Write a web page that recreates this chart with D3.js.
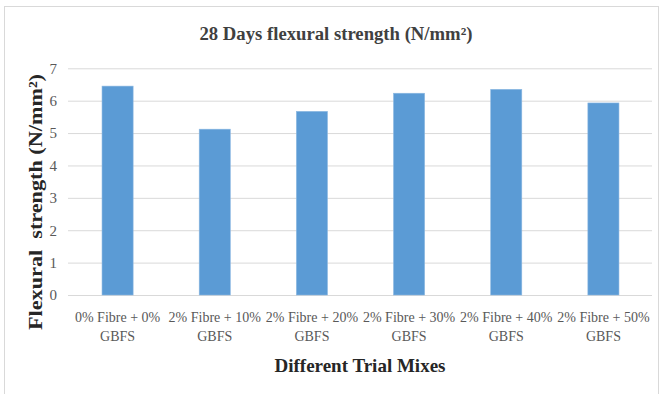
<!DOCTYPE html>
<html>
<head>
<meta charset="utf-8">
<script src="https://cdn.jsdelivr.net/npm/d3@7"></script>
<style>
  html, body { margin: 0; padding: 0; background: #fff; }
  svg { display: block; }
  svg text { font-family: 'Liberation Serif', 'Times New Roman', serif; }
</style>
</head>
<body>
<svg id="chart" width="664" height="394"></svg>
<script>
// Flexural strength at 28 days for each trial mix
const mixLine1 = ["0% Fibre + 0%", "2% Fibre + 10%", "2% Fibre + 20%", "2% Fibre + 30%", "2% Fibre + 40%", "2% Fibre + 50%"];
const mixLine2 = ["GBFS", "GBFS", "GBFS", "GBFS", "GBFS", "GBFS"];
const strength = [6.45, 5.12, 5.67, 6.23, 6.35, 5.93];
const yTicks = [0, 1, 2, 3, 4, 5, 6, 7];

const plot = { left: 69, right: 652, top: 68.3, bottom: 295 };
const svg = d3.select("#chart");
const serif = "'Liberation Serif', 'Times New Roman', serif";

// outer frame
svg.append("rect")
  .attr("x", 4.5).attr("y", 6.5)
  .attr("width", 654).attr("height", 400)
  .attr("fill", "#fff").attr("stroke", "#d9d9d9").attr("stroke-width", 1);

const x = d3.scaleBand()
  .domain(d3.range(mixLine1.length))
  .range([plot.left, plot.right])
  .paddingInner(0.68).paddingOuter(0.34);

const y = d3.scaleLinear().domain([0, 7]).range([plot.bottom, plot.top]);

// gridlines + tick labels
const yAxis = d3.axisLeft(y).tickValues(yTicks).tickFormat(d3.format("d"))
  .tickSize(-(plot.right - plot.left + 1)).tickPadding(11);
const gy = svg.append("g").attr("transform", `translate(${plot.left - 1},0)`).call(yAxis);
gy.attr("font-family", null);
gy.select(".domain").remove();
gy.selectAll(".tick line").attr("stroke", "#d9d9d9").attr("stroke-width", 1);
gy.selectAll(".tick text")
  .attr("fill", "#595959").style("font-family", serif).style("font-size", "15px");

// bars
svg.append("g").selectAll("rect")
  .data(strength)
  .join("rect")
  .attr("x", (d, i) => x(i))
  .attr("width", x.bandwidth())
  .attr("y", d => y(d))
  .attr("height", d => y(0) - y(d))
  .attr("fill", "#5b9bd5")
  .attr("stroke", "#8cb8e2").attr("stroke-width", 0.6);

// category labels (two lines)
const cat = svg.append("g").style("font-family", serif).style("font-size", "14px")
  .attr("fill", "#595959").attr("text-anchor", "middle");
cat.selectAll("text.l1").data(mixLine1).join("text")
  .attr("class", "l1")
  .attr("x", (d, i) => x(i) + x.bandwidth() / 2)
  .attr("y", 322)
  .text(d => d);
cat.selectAll("text.l2").data(mixLine2).join("text")
  .attr("class", "l2")
  .attr("x", (d, i) => x(i) + x.bandwidth() / 2)
  .attr("y", 341)
  .text(d => d);

// title
svg.append("text")
  .attr("x", 336).attr("y", 40)
  .attr("text-anchor", "middle")
  .style("font-family", serif).style("font-weight", "bold").style("font-size", "18px")
  .attr("fill", "#404040")
  .attr("textLength", 273).attr("lengthAdjust", "spacingAndGlyphs")
  .text("28 Days flexural strength (N/mm²)");

// axis titles
svg.append("text")
  .attr("x", 360).attr("y", 372)
  .attr("text-anchor", "middle")
  .style("font-family", serif).style("font-weight", "bold").style("font-size", "19px")
  .attr("fill", "#262626")
  .attr("textLength", 171).attr("lengthAdjust", "spacingAndGlyphs")
  .text("Different Trial Mixes");

svg.append("text")
  .attr("transform", "translate(42,202) rotate(-90)")
  .attr("text-anchor", "middle")
  .style("font-family", serif).style("font-weight", "bold").style("font-size", "19px")
  .style("white-space", "pre")
  .attr("fill", "#262626")
  .attr("textLength", 256).attr("lengthAdjust", "spacingAndGlyphs")
  .text("Flexural  strength (N/mm²)");
</script>
</body>
</html>
